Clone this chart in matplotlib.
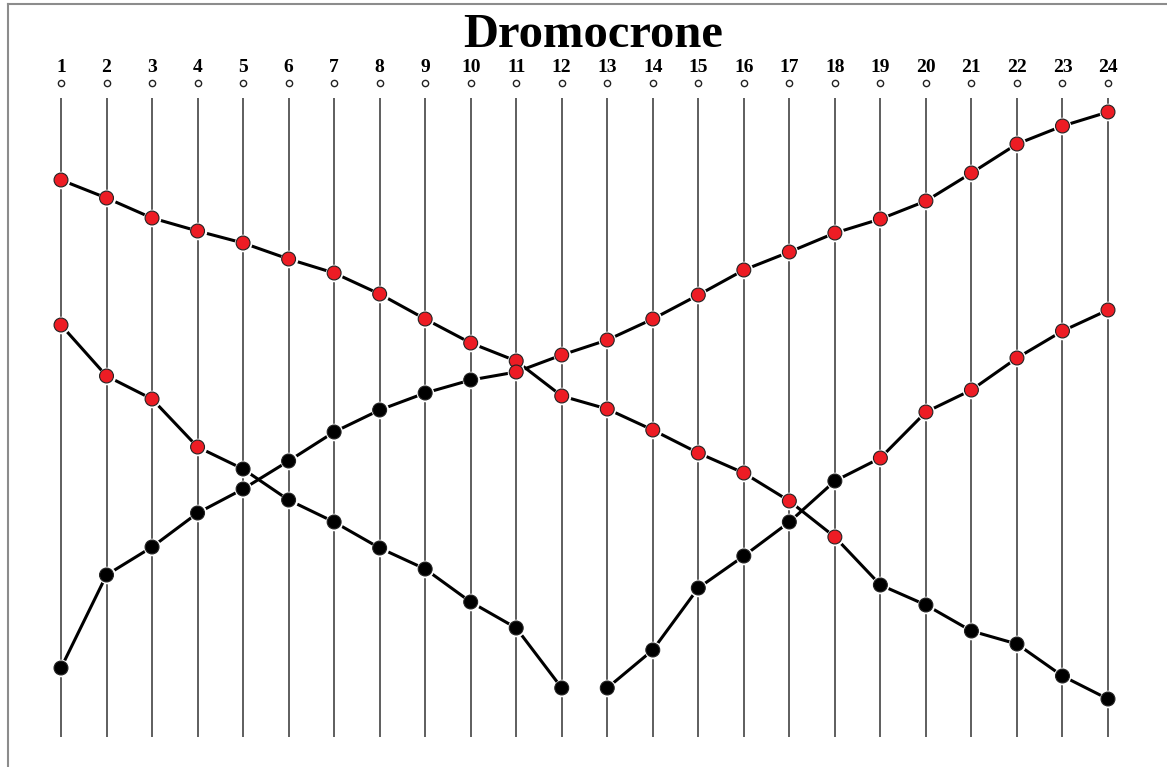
import matplotlib.pyplot as plt
from matplotlib.lines import Line2D

# stations (geophones) 1..24
stations = list(range(1, 25))

# travel times (arbitrary units, bigger = higher on the chart)
time_a = [557, 539, 519, 506, 494, 478, 464, 443, 418, 394, 376, 341,
          328, 307, 284, 264, 236, 200, 152, 132, 106, 93, 61, 38]
color_a = ['r'] * 18 + ['k'] * 6

stations_b = list(range(1, 13))
time_b = [412, 361, 338, 290, 268, 237, 215, 189, 168, 135, 109, 49]
color_b = ['r'] * 4 + ['k'] * 8

time_c = [69, 162, 190, 224, 248, 276, 305, 327, 344, 357, 365, 382,
          397, 418, 442, 467, 485, 504, 518, 536, 564, 593, 611, 625]
color_c = ['k'] * 10 + ['r'] * 14

stations_d = list(range(13, 25))
time_d = [49, 87, 149, 181, 215, 256, 279, 325, 347, 379, 406, 427]
color_d = ['k'] * 6 + ['r'] * 6

RED = '#ED1C24'
W, H = 1167, 767
fig = plt.figure(figsize=(W / 100, H / 100), dpi=100)
ax = fig.add_axes([0, 0, 1, 1])
ax.axis('off')

# station 1 sits at x=61px, station 24 at x=1108px
step = (1108 - 61) / 23
ax.set_xlim(1 - 61 / step, 1 + (W - 61) / step)
ax.set_ylim(-30, 737)

# vertical geophone lines
ax.vlines(stations, 0, 639, color='#333333', lw=1.1, zorder=1)

# station numbers and little circles
for s in stations:
    ax.text(s, 669, str(s), ha='center', va='center', fontsize=14,
            fontweight='bold', family='Liberation Serif')
ax.plot(stations, [654] * len(stations), 'o', ms=4.5, mfc='white',
        mec='#222222', mew=1, ls='none')

series = [(stations, time_a, color_a), (stations_b, time_b, color_b),
          (stations, time_c, color_c), (stations_d, time_d, color_d)]
for xs, ys, cs in series:
    ax.plot(xs, ys, color='black', lw=2.2, zorder=2)
for xs, ys, cs in series:
    ax.scatter(xs, ys, s=160, color='white', zorder=3, lw=0)
for xs, ys, cs in series:
    fc = [RED if c == 'r' else 'black' for c in cs]
    ax.scatter(xs, ys, s=100, c=fc, edgecolors='#222222', linewidths=0.8, zorder=4)

fig.text(593 / W, 1 - 35 / H, 'Dromocrone', ha='center', va='center',
         fontsize=35, fontweight='bold', family='Liberation Serif')

# gray frame of the original screenshot
fig.add_artist(Line2D([8 / W, 8 / W], [0, 1 - 4 / H], color='#8c8c8c', lw=1.5))
fig.add_artist(Line2D([8 / W, 1], [1 - 4 / H, 1 - 4 / H], color='#8c8c8c', lw=1.5))

fig.savefig('out.png', dpi=100)
